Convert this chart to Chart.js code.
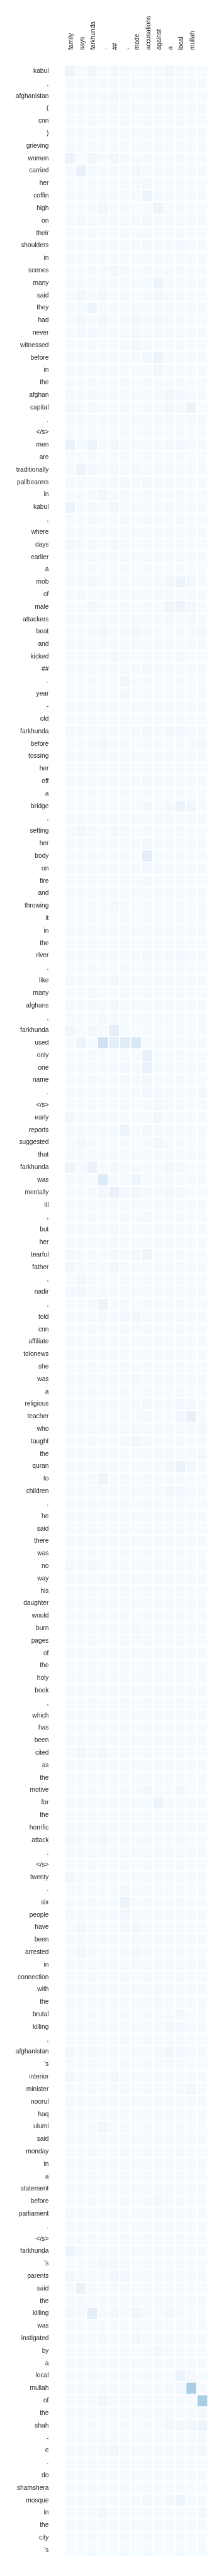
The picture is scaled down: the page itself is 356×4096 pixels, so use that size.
<!DOCTYPE html>
<html lang="en">
<head>
<meta charset="UTF-8">
<title>Attention heatmap</title>
<style>
    body, html {
        margin: 0;
        padding: 0;
        background: #ffffff;
    }
    #wrap {
        width: 356px;
        height: 4096px;
    }
</style>
</head>
<body>
<div id="wrap"><canvas id="heat" width="356" height="4096"></canvas></div>
<script src="https://cdn.jsdelivr.net/npm/chart.js"></script>
<script>
// summary tokens (columns)
const colLabels = ['family', 'says', 'farkhunda', '.', '##', ',', 'made', 'accusations', 'against', 'a', 'local', 'mullah', ''];

// source tokens (rows)
const rowLabels = [
    'kabul', ',', 'afghanistan', '(', 'cnn', ')', 'grieving', 'women', 'carried', 'her', 'coffin', 'high',
    'on', 'their', 'shoulders', 'in', 'scenes', 'many', 'said', 'they', 'had', 'never', 'witnessed', 'before',
    'in', 'the', 'afghan', 'capital', '.', '</s>',
    'men', 'are', 'traditionally', 'pallbearers', 'in', 'kabul', ',', 'where', 'days', 'earlier', 'a', 'mob',
    'of', 'male', 'attackers', 'beat', 'and',
    'kicked', '##', '-', 'year', '-', 'old', 'farkhunda', 'before', 'tossing', 'her', 'off', 'a', 'bridge', ',',
    'setting', 'her', 'body',
    'on', 'fire', 'and', 'throwing', 'it', 'in', 'the', 'river', '.', 'like', 'many', 'afghans', ',', 'farkhunda',
    'used', 'only', 'one',
    'name', '.', '</s>', 'early', 'reports', 'suggested', 'that', 'farkhunda', 'was', 'mentally', 'ill', ',', 'but',
    'her', 'tearful', 'father', ',', 'nadir',
    ',', 'told', 'cnn', 'affiliate', 'tolonews', 'she', 'was', 'a', 'religious', 'teacher', 'who', 'taught', 'the',
    'quran', 'to', 'children', '.',
    'he', 'said', 'there', 'was', 'no', 'way', 'his', 'daughter', 'would', 'burn', 'pages', 'of', 'the', 'holy',
    'book', ',', 'which',
    'has', 'been', 'cited', 'as', 'the', 'motive', 'for', 'the', 'horrific', 'attack', '.', '</s>', 'twenty', '-',
    'six', 'people', 'have', 'been',
    'arrested', 'in', 'connection', 'with', 'the', 'brutal', 'killing', ',', 'afghanistan', "'s", 'interior',
    'minister', 'noorul', 'haq', 'ulumi', 'said', 'monday',
    'in', 'a', 'statement', 'before', 'parliament', '.', '</s>', 'farkhunda', "'s", 'parents', 'said', 'the',
    'killing', 'was', 'instigated', 'by', 'a',
    'local', 'mullah', 'of', 'the', 'shah', '-', 'e', '-', 'do', 'shamshera', 'mosque', 'in', 'the', 'city', "'s"
];

// attention weight in percent, one row per source token, one value per column
const weights = [
    [5,1,4,1,2,1,1,1,1,4,1,1,1],
    [1,1,1,1,1,1,1,1,1,1,1,1,1],
    [1,1,1,1,3,1,1,1,1,1,1,1,1],
    [1,1,1,1,1,1,1,1,1,1,1,1,1],
    [1,1,1,1,1,1,1,1,1,1,1,1,1],
    [1,1,1,1,1,1,1,1,1,1,1,1,1],
    [1,1,1,1,1,1,1,1,1,1,1,1,1],
    [6,0,4,1,3,1,1,1,1,1,1,1,1],
    [1,7,1,1,1,1,3,1,1,1,1,1,1],
    [1,1,1,1,1,1,1,2,1,1,1,1,1],
    [1,1,1,1,1,1,1,6,1,1,1,1,1],
    [1,1,1,4,1,1,1,1,6,1,1,1,1],
    [1,2,1,1,1,1,1,2,1,1,1,1,1],
    [1,1,1,1,1,1,1,2,1,1,1,1,1],
    [1,1,1,1,1,1,1,2,1,1,2,1,1],
    [1,1,1,1,1,1,1,1,1,1,1,1,1],
    [1,1,1,1,2,1,1,1,1,1,1,1,1],
    [1,1,1,1,1,1,1,1,5,1,1,1,1],
    [1,3,1,2,1,1,1,1,3,1,1,1,1],
    [1,1,5,1,1,1,1,1,1,1,1,1,1],
    [1,3,1,2,1,1,3,1,2,1,1,1,1],
    [1,2,2,1,1,1,2,1,2,1,1,1,1],
    [1,1,1,1,1,1,2,1,1,1,1,1,1],
    [1,1,1,1,1,1,1,2,6,1,1,1,1],
    [1,1,1,1,1,1,1,1,4,1,1,1,1],
    [1,1,1,1,1,1,1,1,1,1,1,1,1],
    [2,1,2,1,1,1,1,1,1,4,3,1,1],
    [2,1,2,1,1,1,1,1,1,3,2,6,1],
    [1,1,1,1,1,1,1,1,1,1,1,1,1],
    [1,1,1,1,1,1,1,1,1,1,1,1,1],
    [7,1,6,1,2,1,1,1,1,2,2,1,1],
    [1,1,1,1,1,1,1,1,1,1,1,1,1],
    [1,5,2,1,2,1,2,1,1,1,1,1,1],
    [2,1,1,1,1,2,1,2,1,1,1,1,1],
    [1,1,1,2,1,1,1,1,1,1,1,1,1],
    [6,1,3,1,3,1,1,1,1,2,1,1,1],
    [1,1,1,1,1,1,1,1,1,1,1,1,1],
    [1,1,1,1,1,1,1,1,1,1,1,1,1],
    [2,1,2,1,2,1,1,1,1,1,1,1,1],
    [1,1,1,1,1,1,1,1,2,1,1,1,1],
    [1,1,1,1,1,1,1,1,1,1,1,1,1],
    [1,1,2,1,1,1,1,1,1,3,6,2,1],
    [1,2,1,1,1,1,1,1,1,1,1,1,1],
    [1,1,3,1,1,1,1,1,1,5,6,2,1],
    [1,1,1,1,1,1,1,1,1,2,1,2,1],
    [1,1,1,2,1,1,3,1,1,1,1,1,3],
    [1,1,1,1,1,1,1,1,1,1,1,1,1],
    [1,1,1,1,2,1,1,1,1,1,2,1,1],
    [1,1,1,1,1,1,1,2,1,1,1,1,1],
    [1,1,1,1,1,4,1,1,1,1,1,1,1],
    [1,1,1,1,1,3,1,1,1,1,1,1,1],
    [1,1,1,1,1,1,1,1,1,1,1,1,1],
    [1,1,1,1,1,1,1,1,1,1,1,1,1],
    [2,1,1,1,1,1,1,2,1,3,2,1,1],
    [1,1,1,2,1,1,1,1,1,1,1,1,3],
    [1,1,1,1,1,1,1,1,1,1,1,1,1],
    [1,1,1,1,1,1,1,1,1,1,1,1,1],
    [1,1,1,1,1,1,1,2,1,1,1,1,1],
    [1,1,1,1,1,1,1,1,1,1,1,1,1],
    [1,1,1,1,1,1,1,2,1,2,6,4,1],
    [1,1,1,1,1,1,1,1,1,1,1,1,1],
    [1,2,1,1,2,1,1,1,1,1,1,1,1],
    [1,1,1,1,1,1,1,3,1,1,1,1,1],
    [1,1,1,1,1,1,1,10,1,1,1,1,1],
    [1,1,1,1,1,1,1,2,2,1,1,1,1],
    [1,1,1,1,1,1,1,2,1,1,1,1,1],
    [1,1,1,1,1,1,1,1,1,1,1,1,1],
    [1,1,1,1,2,1,1,1,1,1,1,1,1],
    [1,1,1,1,1,1,1,1,1,1,1,1,1],
    [1,1,1,1,1,1,1,1,1,1,1,1,1],
    [1,1,1,1,1,1,1,1,1,1,1,1,1],
    [1,1,1,1,1,1,1,2,1,2,2,1,1],
    [1,1,1,1,1,1,1,1,1,1,1,1,1],
    [2,1,1,1,2,1,1,1,1,1,1,1,1],
    [1,1,2,1,1,1,1,1,1,1,1,1,1],
    [2,1,2,1,2,1,1,1,1,1,1,1,1],
    [1,1,1,2,1,1,1,1,1,1,1,1,1],
    [4,1,2,1,10,1,1,1,1,1,1,1,1],
    [1,6,1,20,10,12,15,1,1,1,1,1,1],
    [1,1,1,1,1,1,1,8,1,1,1,1,1],
    [1,1,1,1,1,2,1,7,1,1,1,1,1],
    [1,1,1,1,1,2,1,3,1,1,1,1,1],
    [1,1,1,1,1,1,1,2,2,1,1,1,2],
    [1,1,1,1,1,1,1,1,2,1,1,1,1],
    [3,1,1,1,1,1,1,1,3,1,1,1,1],
    [1,1,1,1,1,5,1,2,1,1,1,1,1],
    [1,2,1,1,1,1,1,1,3,1,1,1,1],
    [1,1,1,1,1,1,1,1,1,1,1,1,1],
    [6,1,7,1,2,1,1,1,1,3,2,1,1],
    [1,1,1,13,1,1,5,1,1,1,1,1,1],
    [1,1,1,3,8,2,4,1,1,2,2,1,1],
    [1,1,1,1,1,1,1,1,1,1,1,1,1],
    [1,1,1,1,1,1,1,2,1,1,1,1,1],
    [1,1,1,1,2,1,1,1,1,1,1,1,1],
    [1,1,1,1,1,1,1,1,1,1,1,1,1],
    [2,1,1,1,2,1,2,5,1,1,1,1,1],
    [3,1,1,1,3,1,1,1,1,1,1,1,1],
    [1,3,1,1,1,1,1,1,1,1,1,1,1],
    [2,3,1,1,1,1,1,1,1,1,1,1,1],
    [1,1,1,6,1,1,1,1,1,1,1,1,1],
    [1,1,1,2,1,2,3,1,1,1,1,1,1],
    [1,1,1,1,1,1,1,1,1,1,1,1,1],
    [1,1,1,1,1,1,1,1,1,1,1,1,1],
    [1,1,1,1,1,1,1,1,1,1,1,1,1],
    [1,1,1,1,1,1,1,1,1,1,1,1,1],
    [1,1,1,1,1,1,2,1,1,1,1,1,1],
    [1,1,1,1,1,1,1,1,1,1,1,1,1],
    [1,1,1,1,1,1,1,2,1,1,3,2,1],
    [1,1,1,1,1,1,1,2,1,1,3,8,1],
    [1,1,1,1,1,1,1,1,1,1,1,1,3],
    [1,1,1,1,1,1,3,1,1,1,1,1,1],
    [1,1,1,1,1,1,1,1,1,1,1,1,2],
    [1,1,1,1,1,1,1,1,1,3,7,3,1],
    [1,1,1,5,1,1,1,1,1,1,1,1,1],
    [1,1,1,1,1,1,1,1,1,3,3,1,1],
    [1,1,1,1,1,1,1,1,1,1,1,1,1],
    [1,1,1,1,1,1,1,1,1,1,1,1,1],
    [1,1,1,1,1,1,1,1,1,1,1,1,1],
    [1,1,1,1,1,1,1,1,1,1,1,1,1],
    [1,1,1,1,1,1,1,1,1,1,1,1,1],
    [2,1,2,1,1,1,1,1,1,1,1,1,1],
    [1,1,1,1,1,1,1,1,1,1,1,1,1],
    [1,1,1,1,1,1,1,1,1,1,1,1,1],
    [1,1,1,1,1,1,1,1,1,1,1,1,1],
    [1,1,1,1,1,1,1,1,1,1,1,1,1],
    [1,1,1,1,1,1,2,1,1,1,1,1,1],
    [1,1,1,1,1,1,1,1,1,1,1,1,1],
    [1,1,1,1,1,1,1,1,1,1,1,1,1],
    [1,1,1,1,1,1,1,1,1,1,1,1,1],
    [1,1,1,1,1,1,1,1,1,1,1,1,1],
    [1,1,1,1,1,1,1,1,1,1,1,1,1],
    [1,1,1,1,1,1,1,1,1,1,1,1,1],
    [1,1,1,1,1,1,1,1,1,1,1,1,1],
    [1,1,1,1,1,1,1,1,1,1,1,1,1],
    [1,1,1,1,1,1,1,1,1,1,1,1,1],
    [1,3,1,2,1,1,1,1,1,1,1,1,1],
    [1,1,1,1,1,1,1,1,1,1,1,1,1],
    [1,1,1,1,1,1,1,1,1,1,1,1,1],
    [1,1,1,1,1,1,1,2,1,1,2,1,1],
    [1,1,1,1,1,1,1,1,5,1,1,1,1],
    [1,1,1,1,1,1,1,1,1,1,1,1,1],
    [1,1,1,1,1,1,1,1,1,1,1,1,1],
    [2,1,2,2,1,1,1,2,1,1,2,1,1],
    [1,1,1,1,1,1,1,1,1,1,1,1,1],
    [1,1,1,1,1,1,1,1,1,1,1,1,1],
    [3,1,1,1,1,1,1,1,1,1,1,1,1],
    [1,1,1,1,1,3,1,1,1,1,1,1,1],
    [1,1,1,1,1,6,1,1,1,1,1,1,1],
    [2,1,1,1,1,3,1,1,1,1,1,1,1],
    [1,2,1,1,1,2,2,1,1,1,1,1,1],
    [1,1,1,1,1,1,1,1,1,1,1,1,1],
    [1,4,1,1,1,1,2,1,1,1,1,1,1],
    [1,1,1,1,1,1,1,1,1,1,1,1,1],
    [1,1,1,1,1,1,1,1,1,1,1,1,1],
    [1,1,1,1,1,1,1,1,2,1,1,1,1],
    [1,1,1,1,1,1,1,1,1,1,1,1,1],
    [1,1,1,1,1,1,1,1,1,1,2,1,1],
    [1,1,1,1,1,1,1,1,1,3,2,1,1],
    [1,1,1,1,1,1,1,1,1,1,1,1,1],
    [3,1,2,1,1,1,1,1,1,4,2,1,1],
    [1,1,1,1,1,1,1,1,1,1,1,1,1],
    [3,1,1,1,2,1,1,1,1,1,1,1,1],
    [1,1,1,1,1,1,1,1,1,1,1,3,1],
    [2,1,1,1,1,1,1,1,1,1,1,1,1],
    [1,1,1,1,1,1,1,1,1,1,1,1,1],
    [1,1,1,3,1,1,1,1,1,1,1,1,1],
    [1,1,1,1,1,1,1,1,1,1,1,1,1],
    [1,1,1,1,1,1,1,1,1,1,1,1,1],
    [1,1,1,1,1,1,1,1,1,1,1,1,1],
    [1,1,1,1,1,1,1,1,1,1,1,1,1],
    [1,1,1,1,1,1,1,1,1,1,1,1,1],
    [1,1,1,1,1,1,1,1,2,1,1,1,1],
    [2,1,1,1,1,1,1,1,1,1,1,1,1],
    [1,1,1,1,1,1,1,1,1,1,1,1,1],
    [1,1,1,1,1,1,1,1,1,1,1,1,1],
    [5,1,1,1,1,1,1,1,1,1,1,1,1],
    [1,1,1,2,2,1,1,1,1,1,1,1,1],
    [3,1,1,1,3,3,1,1,1,1,1,1,1],
    [1,7,1,1,1,1,1,1,1,1,1,1,1],
    [1,1,1,1,1,1,1,1,1,1,1,1,1],
    [2,1,10,1,2,1,4,1,1,2,1,1,1],
    [1,1,1,1,1,1,1,1,1,1,1,1,1],
    [1,1,1,2,1,1,3,1,2,1,1,1,1],
    [1,1,1,1,1,1,1,1,2,1,1,1,1],
    [1,1,1,1,1,1,1,1,1,1,1,1,1],
    [1,1,1,1,1,1,1,1,1,1,6,2,1],
    [1,1,1,1,1,1,1,1,1,2,3,34,1],
    [1,1,1,3,1,1,1,1,1,1,1,1,34],
    [1,1,1,1,1,1,1,1,1,1,1,1,3],
    [1,1,1,1,1,1,1,1,1,3,3,3,5],
    [1,1,1,1,1,1,1,1,1,1,1,1,2],
    [1,1,1,2,3,1,1,1,1,1,1,1,3],
    [1,1,1,1,1,1,1,1,1,1,1,1,1],
    [1,1,1,1,1,1,1,1,1,1,1,1,1],
    [1,1,1,1,1,1,1,1,1,1,1,1,1],
    [1,1,1,1,1,1,1,2,1,3,6,1,1],
    [1,1,1,2,1,1,1,1,1,1,1,1,2],
    [1,1,1,1,1,1,1,1,1,1,1,1,1],
    [1,1,1,1,1,1,1,1,1,1,1,1,1],
    [1,1,1,1,1,1,1,1,1,1,1,1,1]
];

// matplotlib "Blues" colormap stops
const BLUES = [
    [247, 251, 255], [222, 235, 247], [198, 219, 239], [158, 202, 225], [107, 174, 214],
    [66, 146, 198], [33, 113, 181], [8, 81, 156], [8, 48, 107]
];

function blues(t) {
    t = Math.max(0, Math.min(1, t));
    const pos = t * (BLUES.length - 1);
    const i = Math.min(Math.floor(pos), BLUES.length - 2);
    const f = pos - i;
    const a = BLUES[i], b = BLUES[i + 1];
    const c = a.map((v, k) => Math.round(v + (b[k] - v) * f));
    return `rgb(${c[0]}, ${c[1]}, ${c[2]})`;
}

const labelFont = { family: "'Liberation Sans', Arial, sans-serif", size: 10.2 };
const textColor = '#262626';

// one floating bar per cell: each column is a dataset spanning [c, c+1] on the hidden x axis
const datasets = colLabels.map((name, c) => ({
    label: name,
    data: rowLabels.map(() => [c, c + 1]),
    backgroundColor: weights.map(row => blues(row[c] / 100)),
    borderColor: '#ffffff',
    borderWidth: 1,
    borderSkipped: false,
    inflateAmount: 0,
    grouped: false,
    barPercentage: 1,
    categoryPercentage: 1,
    xAxisID: 'x',
    yAxisID: 'y'
}));

new Chart(document.getElementById('heat').getContext('2d'), {
    type: 'bar',
    data: {
        labels: rowLabels,
        datasets: datasets
    },
    options: {
        indexAxis: 'y',
        responsive: false,
        animation: false,
        layout: {
            padding: { left: 0, top: 0, right: 25.6, bottom: 30 }
        },
        plugins: {
            legend: { display: false },
            tooltip: { enabled: false }
        },
        scales: {
            y: {
                type: 'category',
                offset: true,
                grid: { display: false, drawTicks: false },
                border: { display: false },
                ticks: {
                    autoSkip: false,
                    padding: 25,
                    color: textColor,
                    font: labelFont
                },
                afterFit: scale => { scale.width = 102.4; }
            },
            x: {
                type: 'linear',
                min: 0,
                max: colLabels.length,
                display: false
            },
            cols: {
                type: 'category',
                labels: colLabels,
                position: 'top',
                offset: true,
                grid: { display: false, drawTicks: false },
                border: { display: false },
                ticks: {
                    autoSkip: false,
                    minRotation: 90,
                    maxRotation: 90,
                    padding: 24,
                    labelOffset: 14.3, // top-axis rotated labels are drawn one line-height left of the tick
                    color: textColor,
                    font: labelFont
                },
                afterFit: scale => { scale.height = 103.3; }
            }
        }
    }
});
</script>
</body>
</html>
